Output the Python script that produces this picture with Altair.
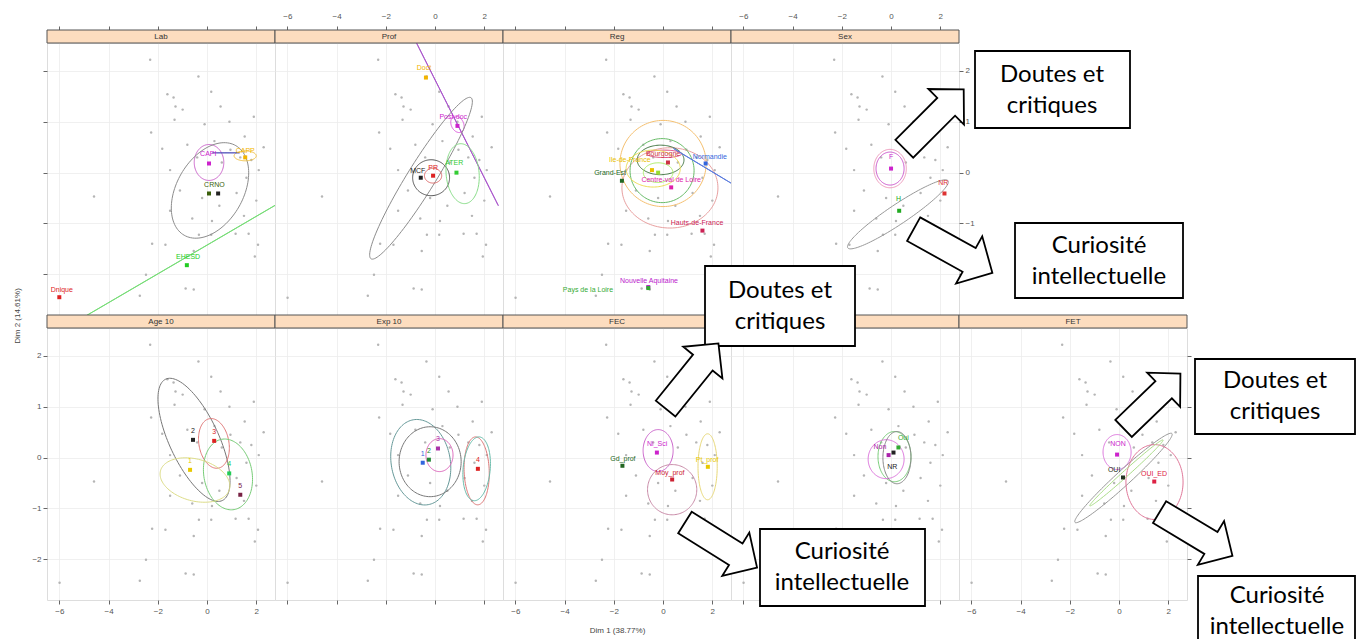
import altair as alt
import numpy as np
import pandas as pd

# ---------------- layout constants ----------------
W, H, STRIP = 228, 272, 13
XDOM = [-6.5, 2.76]
YDOM = [-2.8, 2.55]
XT = [-6, -4, -2, 0, 2]
YT = [-2, -1, 0, 1, 2]
ASPECT = (H / (YDOM[1] - YDOM[0])) / (W / (XDOM[1] - XDOM[0]))

# ---------------- individuals (same cloud in every panel) ----------------
ind_x = [-2.31, -0.35, 0.17, -1.61, -1.36, -1.28, -0.99, -1.32, 0.91, -2.27, -1.82, 1.53,
         -4.59, -0.33, 0.17, 1.16, 1.69, -2.23, -1.69, -0.54, 2.07, 1.94, -2.48, -2.73,
         -0.54, -0.87, -5.99, -0.8, 0.3, 0.95, 1.35, 1.8, 2.1, 1.6, 0.6, -0.4, -1.5, -1.1,
         -0.2, 0.5, 1.2, 2.0, 1.5, -0.6, 0.2, -1.5, 2.3, -0.1, 0.55, 1.9]
ind_y = [2.22, 1.89, 1.59, 1.54, 1.48, 1.30, 1.24, 1.04, 1.00, 0.79, 0.47, 0.71,
         -0.47, -1.22, -1.22, -1.20, -1.20, -1.40, -1.42, -1.54, -1.42, -1.65, -2.01, -2.42,
         -2.30, -2.28, -2.46, 0.55, 0.62, 0.45, 0.30, 0.25, 0.05, -0.10, 0.20, 0.30, 0.05, -0.35,
         -0.50, -0.65, -0.40, -0.55, -0.85, -0.90, -0.95, -0.75, 0.50, 0.95, 1.30, 1.10]

# ---------------- categories per panel ----------------
lab_cat = ["CAPI", "CAPP", "CRNO", "", "EHESD", "Dnique"]
lab_x = [0.08, 1.55, 0.08, 0.45, -0.82, -6.0]
lab_y = [0.18, 0.30, -0.41, -0.41, -1.82, -2.45]
lab_lx = [0.05, 1.55, 0.3, 0.45, -0.77, -5.9]
lab_ly = [0.36, 0.42, -0.24, -0.41, -1.66, -2.3]
lab_col = ["#CC22CC", "#F2B400", "#3A5F0B", "#222222", "#22CC22", "#DD2222"]
lab_ell = [(0.08, 0.2, 0.73, 0.6, 90, "#CC66CC"), (0.12, -0.35, 2.1, 1.35, 60, "#8C8C8C"),
           (1.55, 0.33, 0.45, 0.2, 0, "#F0C040"), (0.77, 0.39, 0.55, 0.004, 0, "#5555BB"),
           (-0.9, -1.68, 8.0, 0.004, 30.3, "#77DD77")]

prof_cat = ["MCF", "PR", "ATER", "Post-doc", "Doct"]
prof_x = [-0.58, -0.08, 0.87, 0.91, -0.37]
prof_y = [-0.10, -0.06, 0.0, 0.92, 1.87]
prof_lx = [-0.7, -0.08, 0.78, 0.74, -0.45]
prof_ly = [0.04, 0.1, 0.18, 1.1, 2.05]
prof_col = ["#222222", "#DD2222", "#33CC33", "#CC22CC", "#F2B400"]
prof_ell = [(0.91, 0.95, 3.7, 0.004, 116.7, "#AA55CC"), (0.91, 0.95, 0.35, 0.25, 116, "#DD55DD"),
            (-0.57, -0.11, 3.85, 0.57, 58.2, "#8C8C8C"), (-0.16, -0.1, 0.75, 0.73, 0, "#555555"),
            (1.12, -0.02, 1.22, 0.67, 95, "#88DD88"), (-0.08, -0.06, 0.35, 0.3, 0, "#DD6666")]

reg_cat = ["Bourgogne", "Normandie", "Ile-de-France", "", "Grand-Est", "Centre-val de Loire",
           "Hauts-de-France", "Nouvelle Aquitaine", "Pays de la Loire"]
reg_x = [0.2, 1.73, -0.45, -0.2, -1.67, 0.33, 1.6, -0.6, -0.6]
reg_y = [0.2, 0.18, 0.05, 0.0, -0.16, -0.29, -1.14, -2.25, -2.27]
reg_lx = [0.0, 1.9, -1.35, -0.2, -2.15, 0.33, 1.38, -0.57, -3.05]
reg_ly = [0.37, 0.3, 0.24, 0.12, 0.0, -0.15, -1.0, -2.13, -2.3]
reg_col = ["#CC3344", "#3366DD", "#E8C000", "#99DD33", "#226622", "#DD22AA", "#CC2255", "#BB22CC", "#33AA33"]
reg_ell = [(0.0, 0.18, 1.75, 1.75, 0, "#F5C070"), (0.28, -0.3, 1.95, 1.63, 0, "#E8A0A0"),
           (-0.04, 0.04, 1.3, 1.3, 0, "#66BB66"), (-0.1, 0.25, 0.95, 0.6, 0, "#447744"),
           (0.05, 0.37, 0.7, 0.15, 0, "#DD4477"), (1.71, 0.1, 1.5, 0.004, 329, "#5577DD"),
           (-0.4, 0.08, 1.1, 0.75, 0, "#EEDD55"), (-0.2, 0.0, 0.6, 0.4, 0, "#AAEE66")]

sex_cat = ["F", "H", "NR"]
sex_x = [0.0, 0.33, 2.17]
sex_y = [0.08, -0.75, -0.41]
sex_lx = [0.0, 0.3, 2.12]
sex_ly = [0.3, -0.52, -0.2]
sex_col = ["#CC22CC", "#22AA22", "#DD3333"]
sex_ell = [(-0.04, 0.08, 0.67, 0.57, 90, "#CC55CC"), (-0.04, 0.08, 0.78, 0.66, 90, "#EE99BB"),
           (0.28, -0.82, 2.45, 0.4, 33.8, "#999999")]

age_cat = ["2", "3", "1", "4", "5"]
age_x = [-0.57, 0.29, -0.69, 0.9, 1.35]
age_y = [0.35, 0.33, -0.24, -0.31, -0.73]
age_lx = [-0.57, 0.29, -0.69, 0.9, 1.35]
age_ly = [0.53, 0.51, -0.06, -0.13, -0.55]
age_col = ["#222222", "#DD2222", "#E8C800", "#22CC55", "#772244"]
age_ell = [(-0.53, 0.35, 2.72, 1.0, 115, "#777777"), (0.28, 0.28, 1.02, 0.61, 100, "#E07777"),
           (0.85, -0.33, 1.45, 0.98, 100, "#77CC77"), (-0.49, -0.44, 1.45, 0.85, 165, "#DDDD88")]

exp_cat = ["1", "2", "3", "4"]
exp_x = [-0.5, -0.25, 0.12, 1.74]
exp_y = [-0.1, -0.04, 0.18, -0.22]
exp_lx = [-0.5, -0.25, 0.12, 1.74]
exp_ly = [0.08, 0.14, 0.36, -0.04]
exp_col = ["#3366DD", "#228833", "#AA33AA", "#DD2222"]
exp_ell = [(-0.58, -0.09, 1.75, 1.2, 100, "#669999"), (-0.2, -0.08, 1.42, 1.26, 90, "#777777"),
           (0.18, 0.05, 0.67, 0.55, 90, "#DD66BB"), (1.69, -0.26, 1.38, 0.51, 92, "#DD7777"),
           (1.69, -0.22, 1.3, 0.55, 85, "#66BBAA")]

fec_cat = ["Gd_prof", "Ni_Sci", "Moy_prof", "Pt_prof"]
fec_x = [-1.65, -0.25, 0.37, 1.82]
fec_y = [-0.16, 0.1, -0.43, -0.18]
fec_lx = [-1.63, -0.24, 0.28, 1.79]
fec_ly = [-0.02, 0.26, -0.31, -0.04]
fec_col = ["#226622", "#CC22CC", "#CC2233", "#E8C800"]
fec_ell = [(-0.2, 0.14, 0.85, 0.61, 90, "#CC66CC"), (0.37, -0.63, 1.02, 1.0, 90, "#C98BA8"),
           (1.81, -0.18, 1.34, 0.39, 90, "#E8D877")]

fei_cat = ["Non", "Oui", "NR"]
fei_x = [-0.1, 0.3, 0.1]
fei_y = [0.05, 0.2, 0.1]
fei_lx = [-0.45, 0.5, 0.05]
fei_ly = [0.2, 0.38, -0.18]
fei_col = ["#AA22AA", "#33AA33", "#222222"]
fei_ell = [(0.14, 0.02, 1.02, 0.67, 90, "#77CC77"), (-0.2, -0.03, 0.79, 0.73, 90, "#DD77DD"),
           (0.24, 0.0, 1.06, 0.57, 90, "#888888")]

fet_cat = ["NON", "OUI", "OUI_ED"]
fet_x = [-0.08, 0.16, 1.43]
fet_y = [0.06, -0.39, -0.47]
fet_lx = [-0.04, -0.2, 1.42]
fet_ly = [0.26, -0.24, -0.33]
fet_col = ["#CC22CC", "#223322", "#DD2244"]
fet_ell = [(-0.08, 0.11, 0.71, 0.57, 90, "#DD77DD"), (0.18, -0.4, 2.67, 0.3, 42.5, "#999999"),
           (1.44, -0.48, 1.52, 1.16, 90, "#E07799"), (0.3, -0.3, 2.0, 0.12, 42, "#AADD88")]

# ---------------- helpers ----------------
one = pd.DataFrame({"k": [0]})
ind_df = pd.DataFrame({"x": ind_x, "y": ind_y})
ARROW = "M -1 -0.3 L 0.41 -0.3 L 0.41 -0.6 L 1 0 L 0.41 0.6 L 0.41 0.3 L -1 0.3 Z"
STRIP_FILL = "#FDDDBF"
BORDER = "#555555"
LH = 31


def ellipse_df(ells):
    t = np.linspace(0, 2 * np.pi, 121)
    frames = []
    for k, (cx, cy, a, b, th, col) in enumerate(ells):
        r = np.radians(th)
        u = a * np.cos(t) * np.cos(r) - b * np.sin(t) * np.sin(r)
        v = a * np.cos(t) * np.sin(r) + b * np.sin(t) * np.cos(r)
        frames.append(pd.DataFrame({"x": cx + u, "y": cy + v / ASPECT, "id": k,
                                    "o": np.arange(len(t)), "c": col}))
    return pd.concat(frames, ignore_index=True)


def xaxis(orient, labels, offset=0, title=None):
    kw = dict(orient=orient, values=XT, labels=labels, ticks=True, tickSize=4, domain=False,
              grid=True, gridColor="#ececec", gridWidth=0.8, offset=offset, labelFontSize=8,
              labelColor="#555", tickColor="#666", labelFlush=False,
              labelPadding=6 if orient == "top" else 3)
    if title:
        kw.update(title=title, titleFontSize=8, titleFontWeight="normal", titleColor="#444",
                  titlePadding=11)
    else:
        kw.update(title=None)
    return alt.Axis(**kw)


def yaxis(orient, labels, ticks):
    return alt.Axis(orient=orient, values=YT, labels=labels, ticks=ticks, tickSize=4, domain=False,
                    grid=True, gridColor="#ececec", gridWidth=0.8, labelFontSize=8, labelColor="#555",
                    tickColor="#666", labelFlush=False, labelPadding=2, title=None)


def box(x1, x2, y1, y2):
    return alt.Chart(one).mark_rect(fill="white", stroke="black", strokeWidth=1.8).encode(
        x=alt.value(x1), x2=alt.value(x2), y=alt.value(y1), y2=alt.value(y2))


def btext(lines, cx, cy):
    # cy is the vertical centre of the two-line block; the first line sits at y
    return alt.Chart(one).mark_text(text=lines, font="Lato", fontSize=24, lineHeight=LH,
                                    color="black", align="center", baseline="middle").encode(
        x=alt.value(cx), y=alt.value(cy - LH / 2))


def arrow(cx, cy, length, angle):
    return alt.Chart(one).mark_point(shape=ARROW, size=length ** 2, angle=angle, filled=True,
                                     fill="white", stroke="black", strokeWidth=1.8,
                                     opacity=1).encode(x=alt.value(cx), y=alt.value(cy))


def panel(name, cats, xs, ys, lxs, lys, cols, ells, xax, yax, extras=()):
    sx = alt.Scale(domain=XDOM, nice=False, zero=False)
    sy = alt.Scale(domain=YDOM, nice=False, zero=False)
    X = alt.X("x:Q", scale=sx, axis=xax)
    Y = alt.Y("y:Q", scale=sy, axis=yax)
    ind = alt.Chart(ind_df).mark_circle(size=6, color="#b5b5b5", opacity=1, clip=True).encode(x=X, y=Y)
    ell = alt.Chart(ellipse_df(ells)).mark_line(strokeWidth=1, clip=True).encode(
        x=X, y=Y, detail="id:N", order="o:Q", color=alt.Color("c:N", scale=None))
    pdf = pd.DataFrame({"x": xs, "y": ys, "c": cols})
    ldf = pd.DataFrame({"x": lxs, "y": lys, "c": cols, "t": cats})
    pts = alt.Chart(pdf).mark_square(size=16, opacity=1, clip=True).encode(
        x=X, y=Y, color=alt.Color("c:N", scale=None))
    labs = alt.Chart(ldf).mark_text(fontSize=7, font="Liberation Sans", clip=True).encode(
        x=X, y=Y, text="t:N", color=alt.Color("c:N", scale=None))
    strip = alt.Chart(one).mark_rect(fill=STRIP_FILL, stroke=BORDER, strokeWidth=1).encode(
        x=alt.value(0), x2=alt.value(W), y=alt.value(-STRIP), y2=alt.value(0))
    strip_t = alt.Chart(pd.DataFrame({"t": [name]})).mark_text(
        fontSize=8, font="Liberation Sans", color="#333").encode(
        x=alt.value(W / 2), y=alt.value(-STRIP / 2), text="t:N")
    return alt.layer(ind, ell, pts, labs, strip, strip_t, *extras).properties(width=W, height=H)


# ---------------- panels ----------------
p_lab = panel("Lab", lab_cat, lab_x, lab_y, lab_lx, lab_ly, lab_col, lab_ell,
              xaxis("top", False, STRIP), yaxis("left", False, True))
p_prof = panel("Prof", prof_cat, prof_x, prof_y, prof_lx, prof_ly, prof_col, prof_ell,
               xaxis("top", True, STRIP), yaxis("left", False, False))
p_reg = panel("Reg", reg_cat, reg_x, reg_y, reg_lx, reg_ly, reg_col, reg_ell,
              xaxis("top", False, STRIP), yaxis("left", False, False))
p_sex = panel("Sex", sex_cat, sex_x, sex_y, sex_lx, sex_ly, sex_col, sex_ell,
              xaxis("top", True, STRIP), yaxis("right", True, True))
p_empty = alt.Chart(one).mark_point(opacity=0).encode(
    x=alt.value(0), y=alt.value(0)).properties(
    width=W, height=H, view=alt.ViewBackground(stroke="transparent"))

ytitle = alt.Chart(one).mark_text(text="Dim 2 (14.61%)", angle=270, fontSize=8,
                                  font="Liberation Sans", color="#444").encode(
    x=alt.value(-29), y=alt.value(-12))
p_age = panel("Age 10", age_cat, age_x, age_y, age_lx, age_ly, age_col, age_ell,
              xaxis("bottom", True), yaxis("left", True, True), extras=[ytitle])
p_exp = panel("Exp 10", exp_cat, exp_x, exp_y, exp_lx, exp_ly, exp_col, exp_ell,
              xaxis("bottom", False), yaxis("left", False, False))
p_fec = panel("FEC", fec_cat, fec_x, fec_y, fec_lx, fec_ly, fec_col, fec_ell,
              xaxis("bottom", True, title="Dim 1 (38.77%)"), yaxis("left", False, False))
p_fei = panel("FEI", fei_cat, fei_x, fei_y, fei_lx, fei_ly, fei_col, fei_ell,
              xaxis("bottom", False), yaxis("left", False, False))

# annotation overlay: drawn in the last panel (origin = its top-left data corner)
notes = [
    box(16, 171, -277, -200), btext(["Doutes et", "critiques"], 93, -238),
    arrow(-25, -209, 84, 315),
    box(56, 224, -105, -30), btext(["Curiosité", "intellectuelle"], 140, -67),
    arrow(-6, -77, 90, 29),
    box(-254, -104, -62, 18), btext(["Doutes et", "critiques"], -179, -22),
    arrow(-267, 48, 84, 309),
    arrow(-238, 217, 85, 32),
    box(-199, -34, 201, 278), btext(["Curiosité", "intellectuelle"], -117, 239),
    arrow(193, 73, 79, 316),
    box(236, 396, 31, 106), btext(["Doutes et", "critiques"], 316, 68),
    arrow(237, 206, 85, 31),
    box(239, 396, 248, 330), btext(["Curiosité", "intellectuelle"], 318, 283),
]
p_fet = panel("FET", fet_cat, fet_x, fet_y, fet_lx, fet_ly, fet_col, fet_ell,
              xaxis("bottom", True), yaxis("right", False, True), extras=notes)

chart = alt.concat(p_lab, p_prof, p_reg, p_sex, p_empty,
                   p_age, p_exp, p_fec, p_fei, p_fet,
                   columns=5, spacing={"row": STRIP, "column": 0}, bounds="flush").properties(
    padding={"left": 5, "top": 3, "right": 0, "bottom": 0}
).configure_view(stroke=BORDER, strokeWidth=1).configure(background="white")

chart.save("out.html", embed_options={"renderer": "svg", "actions": False})
